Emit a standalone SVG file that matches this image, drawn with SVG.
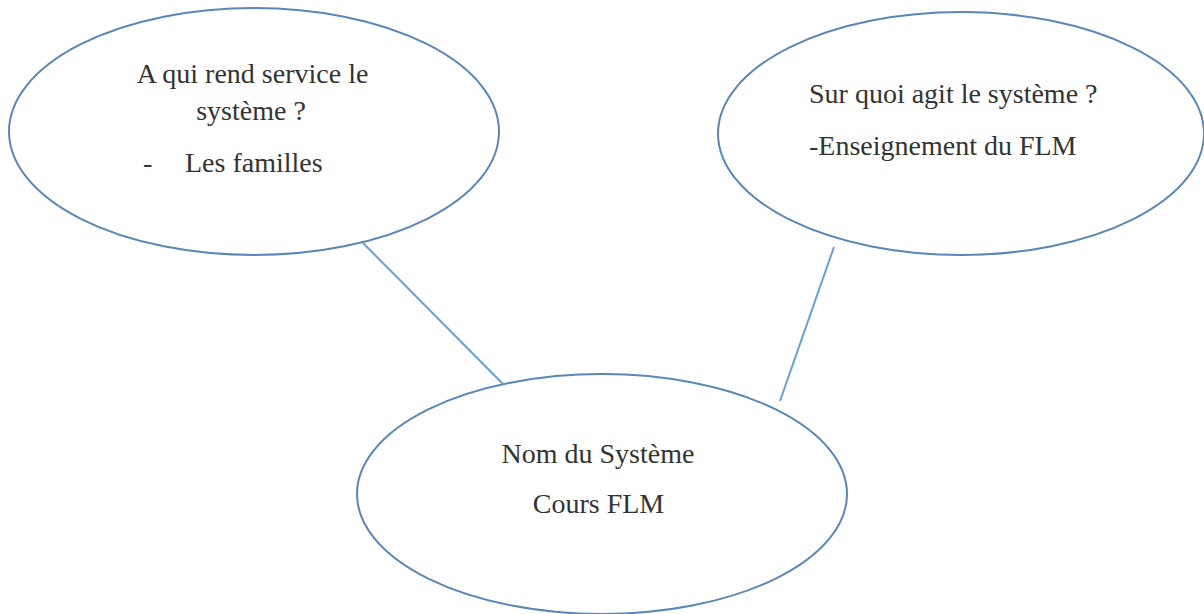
<svg xmlns="http://www.w3.org/2000/svg" width="1204" height="614" viewBox="0 0 1204 614">
<style>
.node ellipse{fill:#ffffff;stroke:#5b86b6;stroke-width:2}
.conn line{stroke:#6a9fd6;stroke-width:2}
text{font-family:"Liberation Serif","Times New Roman",serif;font-size:28px;fill:#333333}
.c{text-anchor:middle}
</style>
<rect width="1204" height="614" fill="#ffffff"/>
<g id="connectors" class="conn">
<line x1="363" y1="243" x2="504" y2="385"/>
<line x1="834" y1="247" x2="780" y2="401"/>
</g>
<g id="node-left" class="node">
<ellipse cx="254" cy="131.5" rx="245" ry="123.5"/>
<text class="c" x="252.5" y="83">A qui rend service le</text>
<text class="c" x="251" y="120">système ?</text>
<text x="143" y="172">-</text>
<text x="185" y="172">Les familles</text>
</g>
<g id="node-right" class="node">
<ellipse cx="961" cy="133.5" rx="243" ry="121.5"/>
<text x="809" y="103">Sur quoi agit le système ?</text>
<text x="809" y="155">-Enseignement du FLM</text>
</g>
<g id="node-bottom" class="node">
<ellipse cx="602" cy="494" rx="245" ry="120"/>
<text class="c" x="598" y="463">Nom du Système</text>
<text class="c" x="598.5" y="513">Cours FLM</text>
</g>
</svg>
